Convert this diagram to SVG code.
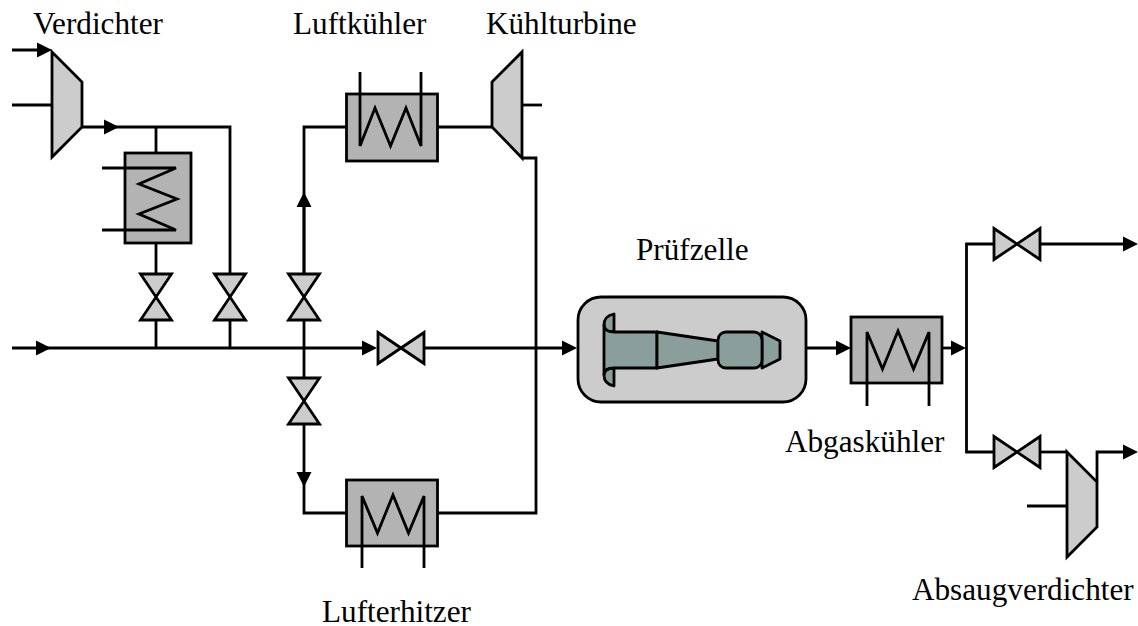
<svg xmlns="http://www.w3.org/2000/svg" width="1138" height="626" viewBox="0 0 1138 626">
<style>
text{font-family:"Liberation Serif","Times New Roman",serif;font-size:31.2px;fill:#000}
.l{fill:none;stroke:#000;stroke-width:2.8;stroke-linejoin:miter}
.a{marker-end:url(#arrow)}
.c{fill:#ccc;stroke:#000;stroke-width:2.8;stroke-linejoin:miter}
.h{fill:#b3b3b3;stroke:#000;stroke-width:2.8}
.e{fill:#8a9e9c;stroke:#000;stroke-width:2.8;stroke-linejoin:round}
</style>
<defs>
<marker id="arrow" markerUnits="userSpaceOnUse" markerWidth="15" markerHeight="15" viewBox="0 0 15 15" refX="11" refY="7.5" orient="auto" overflow="visible"><path d="M0,0L15,7.5L0,15Z" fill="#000"/></marker>
<polygon id="vv" class="c" points="-15.500,-23 15.500,-23 -15.500,23 15.500,23"/>
<polygon id="vh" class="c" points="-23,-15.500 -23,15.500 23,-15.500 23,15.500"/>
</defs>
<g id="connectors">
<path class="l a" d="M12,50H48"/>
<path class="l" d="M12,105H52"/>
<path class="l a" d="M82,127H115"/>
<path class="l" d="M115,127H230V274"/>
<path class="l" d="M156,127V153M156,243V274M156,320V348M230,320V348"/>
<path class="l a" d="M12,348H47"/>
<path class="l a" d="M47,348H373"/>
<path class="l a" d="M424,348H573"/>
<path class="l" d="M346,127H304V274"/>
<path class="l a" d="M304,274V196"/>
<path class="l" d="M304,320V378"/>
<path class="l a" d="M304,424V483"/>
<path class="l" d="M304,483V513H346"/>
<path class="l" d="M437,127H492"/>
<path class="l" d="M522,105H542"/>
<path class="l" d="M522,158H536V513H437"/>
<path class="l a" d="M806,348H847"/>
<path class="l a" d="M942,348H962"/>
<path class="l" d="M994,244H966.500V452H994"/>
<path class="l a" d="M1040,244H1134"/>
<path class="l" d="M1040,452H1067"/>
<path class="l a" d="M1097,482V452H1134"/>
<path class="l" d="M1027,506H1067"/>
</g>
<g id="verdichter"><polygon class="c" points="52,52 82,82 82,127 52,157"/><text x="33" y="34">Verdichter</text></g>
<g id="zwischenkuehler"><rect class="h" x="125" y="153" width="66" height="90"/><path class="l" d="M102,168H176L139,184L177,199L139,214L176,230H102"/></g>
<g id="ventil-1"><use href="#vv" x="156" y="297"/></g>
<g id="ventil-2"><use href="#vv" x="230" y="297"/></g>
<g id="ventil-3"><use href="#vv" x="304" y="297"/></g>
<g id="ventil-4"><use href="#vv" x="304" y="401"/></g>
<g id="ventil-5"><use href="#vh" x="401" y="348"/></g>
<g id="luftkuehler"><rect class="h" x="346.500" y="94" width="91" height="67"/><path class="l" d="M360,72V146L375,108L390.500,146L406,108L421,146V72"/><text x="293" y="34">Luftkühler</text></g>
<g id="kuehlturbine"><polygon class="c" points="492,82 522,52 522,158 492,127"/><text x="486" y="34">Kühlturbine</text></g>
<g id="lufterhitzer"><rect class="h" x="346.500" y="480" width="91" height="66"/><path class="l" d="M362,568V496L377.500,533L393,495L408.500,533L424,496V568"/><text x="322" y="622">Lufterhitzer</text></g>
<g id="pruefzelle">
<rect class="c" x="578" y="297" width="228" height="105" rx="23"/>
<path class="e" d="M614,314Q604,316 604,325Q604,332 614,332Z"/>
<path class="e" d="M614,386Q604,384 604,375Q604,368 614,368Z"/>
<path class="e" d="M657,332H614Q604,332 604,325V375Q604,368 614,368H657Z"/>
<path class="e" d="M657,332L718,341V359L657,368Z"/>
<path class="e" d="M762,332L780,341V359L762,368Z"/>
<rect class="e" x="718" y="332" width="44" height="36" rx="8"/>
<text x="636" y="260">Prüfzelle</text>
</g>
<g id="abgaskuehler"><rect class="h" x="851" y="317" width="91" height="66"/><path class="l" d="M867,406V332L882.500,369L898,331L913.500,369L929,332V406"/><text x="785" y="452">Abgaskühler</text></g>
<g id="ventil-6"><use href="#vh" x="1017" y="244"/></g>
<g id="ventil-7"><use href="#vh" x="1017" y="452"/></g>
<g id="absaugverdichter"><polygon class="c" points="1067,452 1097,482 1097,527 1067,557"/><text x="912" y="600">Absaugverdichter</text></g>
</svg>
